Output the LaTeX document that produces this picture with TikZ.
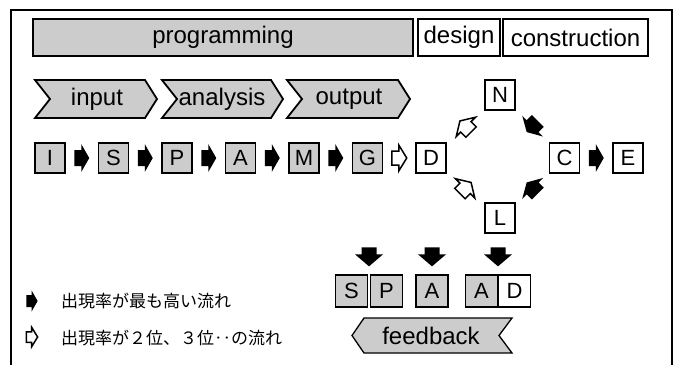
\documentclass[tikz,border=0pt]{standalone}
\usepackage{fontspec}
\setmainfont{Liberation Sans}
\newfontfamily\cjk{Noto Sans CJK JP}
\usetikzlibrary{calc}
\definecolor{stip}{gray}{0.80}
\tikzset{
  barbox/.style={draw, line width=1.8pt, minimum height=37pt, inner sep=0pt, font=\fontsize{24}{28}\selectfont},
  rowbox/.style={draw, line width=1.6pt, minimum width=30pt, minimum height=30pt, inner sep=0pt, font=\fontsize{22}{26}\selectfont},
  lowbox/.style={draw, line width=1.3pt, minimum width=32pt, minimum height=32pt, inner sep=0pt, font=\fontsize{22}{26}\selectfont},
  chev/.style={draw, line width=1.8pt, fill=stip, line join=miter},
  chevtext/.style={font=\fontsize{24}{28}\selectfont, inner sep=0pt},
  blkarrow/.pic={\fill[black] (-7.5,8) -- (-0.5,8) -- (-0.5,14) -- (7.5,0) -- (-0.5,-14) -- (-0.5,-8) -- (-7.5,-8) -- cycle;},
  whtarrow/.pic={\filldraw[fill=white, draw=black, line width=1.5pt, line join=miter] (-7.5,7) -- (-0.5,7) -- (-0.5,13) -- (7.5,0) -- (-0.5,-13) -- (-0.5,-7) -- (-7.5,-7) -- cycle;},
  blkdown/.pic={\fill[black] (-7.5,9.5) -- (7.5,9.5) -- (7.5,2.5) -- (14,2.5) -- (0,-9.5) -- (-14,2.5) -- (-7.5,2.5) -- cycle;},
  legtext/.style={anchor=west, inner sep=0pt, font=\cjk\fontsize{17}{20}\selectfont}
}
\begin{document}
\begin{tikzpicture}[x=1pt,y=1pt]
\useasboundingbox (0,0) rectangle (679,-365);
% frame
\draw[line width=1.2pt] (11,-365) -- (11,-10) -- (672,-10) -- (672,-365);
% top bar
\node[barbox, fill=stip, minimum width=380pt] (prog) at (223,-37.5) {programming};
\node[barbox, minimum width=82pt] (design) at (459,-37.5) {design};
\node[barbox, minimum width=145pt] (constr) at (575.5,-37.5) {construction};
% chevrons
\draw[chev] (35,-80) -- (145,-80) -- (157,-99) -- (145,-118) -- (35,-118) -- (50,-99) -- cycle;
\node[chevtext] (input) at (97,-99) {input};
\draw[chev] (162,-80) -- (271,-80) -- (283,-99) -- (271,-118) -- (162,-118) -- (177,-99) -- cycle;
\node[chevtext] (analysis) at (222,-99) {analysis};
\draw[chev] (287,-80) -- (398,-80) -- (410,-99) -- (398,-118) -- (287,-118) -- (302,-99) -- cycle;
\node[chevtext] (output) at (349,-99) {output};
% process row
\node[rowbox, fill=stip] (I) at (50,-158) {I};
\node[rowbox, fill=stip] (S) at (113.5,-158) {S};
\node[rowbox, fill=stip] (P) at (177,-158) {P};
\node[rowbox, fill=stip] (A) at (240.5,-158) {A};
\node[rowbox, fill=stip] (M) at (304,-158) {M};
\node[rowbox, fill=stip] (G) at (367.5,-158) {G};
\node[rowbox] (D) at (431,-158) {D};
\node[rowbox] (N) at (500,-95) {N};
\node[rowbox] (L) at (500,-218) {L};
\node[rowbox] (C) at (564.5,-158) {C};
\node[rowbox] (E) at (628,-158) {E};
\pic at ($(I.east)!0.5!(S.west)$) {blkarrow};
\pic at ($(S.east)!0.5!(P.west)$) {blkarrow};
\pic at ($(P.east)!0.5!(A.west)$) {blkarrow};
\pic at ($(A.east)!0.5!(M.west)$) {blkarrow};
\pic at ($(M.east)!0.5!(G.west)$) {blkarrow};
\pic at ($(G.east)!0.5!(D.west)$) {whtarrow};
\pic at ($(C.east)!0.5!(E.west)$) {blkarrow};
\pic[rotate=135, scale=1.05] at ($(D)!0.5!(N)$) {whtarrow};
\pic[rotate=225, scale=1.05] at ($(N)!0.5!(C)$) {blkarrow};
\pic[rotate=45, scale=1.05] at ($(D)!0.5!(L)$) {whtarrow};
\pic[rotate=135, scale=1.05] at ($(L)!0.5!(C)$) {blkarrow};
% feedback boxes
\node[lowbox, fill=stip] (s2) at (351.5,-291) {S};
\node[lowbox, fill=stip] (p2) at (386.5,-291) {P};
\node[lowbox, fill=stip] (a2) at (432,-291) {A};
\node[lowbox, fill=stip] (a3) at (481.5,-291) {A};
\node[lowbox] (d2) at (514.5,-291) {D};
\pic at ($($(s2.north)!0.5!(p2.north)$)+(0,17.5)$) {blkdown};
\pic at ($(a2.north)+(0,17.5)$) {blkdown};
\pic at ($($(a3.north)!0.5!(d2.north)$)+(0,17.5)$) {blkdown};
\draw[line width=1.3pt, fill=stip, line join=miter] (352,-335.5) -- (364,-318) -- (512,-318) -- (499,-335.5) -- (512,-353) -- (364,-353) -- cycle;
\node[chevtext] (feedback) at (431,-335.5) {feedback};
% legend
\pic[scale=0.75] at (32,-301) {blkarrow};
\pic[scale=0.75] at (32,-337) {whtarrow};
\node[legtext] (leg1) at (61,-301) {出現率が最も高い流れ};
\node[legtext] (leg2) at (61,-338) {出現率が２位、３位‥の流れ};
\end{tikzpicture}
\end{document}
